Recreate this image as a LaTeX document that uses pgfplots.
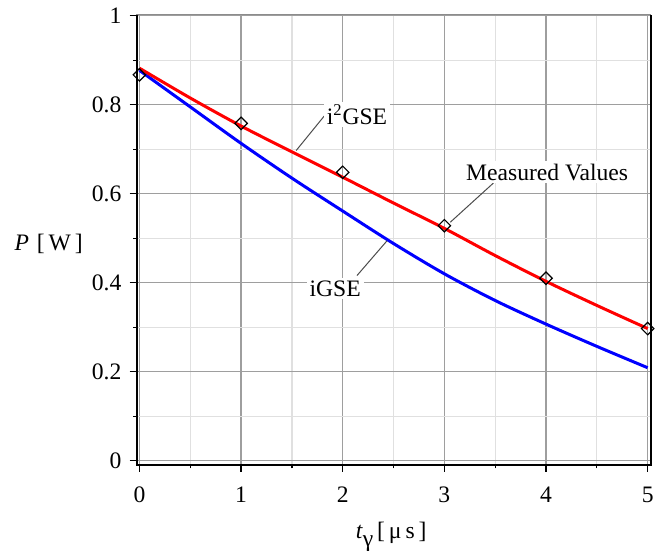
\documentclass[border=0pt]{standalone}
\usepackage{fontspec}
\setmainfont{Liberation Serif}
\usepackage{pgfplots}
\pgfplotsset{compat=1.18}
\begin{document}
\fontsize{11.8}{14}\selectfont
\begin{tikzpicture}
\begin{axis}[
  scale only axis, width=257pt, height=225pt,
  xmin=-0.027, xmax=5.03, ymin=-0.009, ymax=1.002,
  xtick={0,1,2,3,4,5}, ytick={0,0.2,0.4,0.6,0.8,1},
  xticklabels={0,1,2,3,4,5}, yticklabels={0,0.2,0.4,0.6,0.8,1},
  minor x tick num=1, minor y tick num=1,
  tick align=outside, xtick pos=left, ytick pos=left,
  major tick length=3.5pt, minor tick length=1.8pt,
  tick style={black, line width=0.6pt},
  grid=both,
  major grid style={draw=black!38, line width=0.6pt},
  minor grid style={draw=black!12, line width=0.6pt},
  axis line style={draw=black!45, line width=0.6pt},
  clip=false,
  tick label style={font=\rmfamily},
  xticklabel style={yshift=-3.5pt},
  xlabel={\textit{t}\raisebox{-4pt}{γ}\,[\,μ\,s\,]},
  xlabel style={at={(axis description cs:0.495,0)}, anchor=base, yshift=-37pt},
  ylabel={\textit{P}\,\,[\,W\,]},
  ylabel style={rotate=-90, at={(axis description cs:0,0.49)}, anchor=center, xshift=-44pt},
  after end axis/.code={
    \draw[black, line width=1pt] (rel axis cs:0,1) -- (rel axis cs:0,0) -- (rel axis cs:1,0) -- (rel axis cs:1,1);
  },
]
% iGSE
\addplot[blue, line width=1.5pt, smooth] coordinates {
  (0,0.877) (0.5,0.795) (1,0.713) (1.5,0.635) (2,0.561) (2.5,0.488)
  (3,0.420) (3.5,0.360) (4,0.307) (4.5,0.257) (5,0.209)
};
% i2GSE
\addplot[red, line width=1.5pt, smooth] coordinates {
  (0,0.882) (0.5,0.815) (1,0.752) (1.5,0.694) (2,0.637) (2.5,0.579)
  (3,0.522) (3.5,0.461) (4,0.403) (4.5,0.349) (5,0.297)
};
% Measured values
\addplot[only marks, mark=square, mark size=2.2pt,
  mark options={rotate=45, draw=black, fill=white, line width=0.6pt}] coordinates {
  (0,0.867) (1,0.758) (2,0.648) (3,0.528) (4,0.410) (5,0.297)
};
\draw[black!70, line width=0.5pt] (axis cs:1.827,0.777) -- (axis cs:1.542,0.697);
\draw[black!70, line width=0.5pt] (axis cs:3.483,0.624) -- (axis cs:3.059,0.536);
\draw[black!70, line width=0.5pt] (axis cs:2.14,0.416) -- (axis cs:2.435,0.494);
\node[fill=white, inner sep=1.5pt] at (axis cs:2.14,0.778) {i\textsuperscript{2}GSE};
\node[fill=white, inner sep=1.5pt] at (axis cs:4.011,0.6485) {Measured Values};
\node[fill=white, inner sep=1.5pt] at (axis cs:1.926,0.387) {iGSE};
\coordinate (SW) at (rel axis cs:0,0);
\coordinate (NE) at (rel axis cs:1,1);
\end{axis}
\path ([shift={(-68.35pt,-42.85pt)}]SW) rectangle ([shift={(7.15pt,6.65pt)}]NE);
\end{tikzpicture}
\end{document}
